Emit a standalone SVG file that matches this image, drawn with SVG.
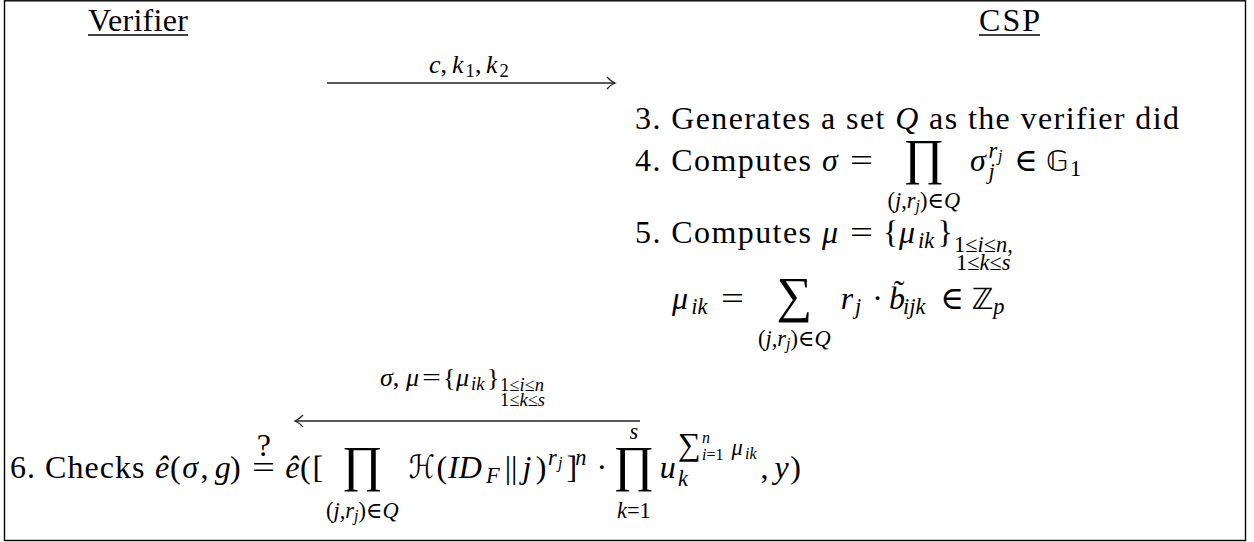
<svg xmlns="http://www.w3.org/2000/svg" width="1254" height="542" viewBox="0 0 1254 542" font-family="'Liberation Serif', Tinos, 'Times New Roman', 'DejaVu Serif', serif">
<style>
.t{font-family:'Liberation Serif',Tinos,'Times New Roman','Noto Serif','DejaVu Serif',serif;font-size:32px;fill:#000}
.i{font-style:italic}
.sc{font-size:22.4px}
.ss{font-size:16px}
.lb{font-size:26px}
.lbs{font-size:18.5px}
.m{text-anchor:middle}
.op{font-size:50px}
.bb{font-family:'DejaVu Sans','DejaVu Serif','Noto Sans',sans-serif;font-size:29px;fill:#000}
.cal{font-family:'DejaVu Serif','DejaVu Sans',serif;font-size:32px;font-style:italic;fill:#000}
.rule{stroke:#000;stroke-width:1.3}
.conn{stroke:#222;stroke-width:1.3;fill:none;marker-end:url(#ah)}
</style>
<defs>
<marker id="ah" markerUnits="userSpaceOnUse" markerWidth="14" markerHeight="14" viewBox="-12 -7 14 14" refX="0" refY="0" orient="auto">
<path d="M-8,-6 Q-4,-1.5 0,0 Q-4,1.5 -8,6" fill="none" stroke="#222" stroke-width="1.3"/>
</marker>
</defs>
<rect x="4.5" y="0.8" width="1241" height="539.7" fill="#fff" stroke="#000" stroke-width="1.4"/>

<g id="verifier">
<text class="t" x="88" y="31" textLength="100" lengthAdjust="spacing">Verifier</text>
<line class="rule" x1="88" y1="35" x2="188" y2="35"/>
</g>
<g id="csp">
<text class="t" x="979" y="31" textLength="61" lengthAdjust="spacing">CSP</text>
<line class="rule" x1="979" y1="35" x2="1040" y2="35"/>
</g>

<g id="connectors">
<line class="conn" x1="327" y1="83" x2="615" y2="83"/>
<line class="conn" x1="640" y1="421" x2="295" y2="421"/>
</g>

<g id="label-challenge">
<text class="t lb i" x="429" y="73">c<tspan font-style="normal">,</tspan></text>
<text class="t lb i" x="452" y="73">k</text>
<text class="t lbs" x="465.5" y="77">1</text>
<text class="t lb" x="475" y="73">,</text>
<text class="t lb i" x="486" y="73">k</text>
<text class="t lbs" x="499.5" y="77">2</text>
</g>

<g id="label-response">
<text class="t lb i" x="380" y="386">σ<tspan font-style="normal">,</tspan></text>
<text class="t lb i" x="406" y="386">μ</text>
<text class="t lb" x="422" y="386" textLength="19" lengthAdjust="spacingAndGlyphs">=</text>
<text class="t lb" x="443" y="386">{</text>
<text class="t lb i" x="456" y="386">μ</text>
<text class="t lbs i" x="471" y="390">ik</text>
<text class="t lb" x="487" y="386">}</text>
<text class="t lbs" x="500" y="391">1≤<tspan class="i">i</tspan>≤<tspan class="i">n</tspan></text>
<text class="t lbs" x="500" y="406">1≤<tspan class="i">k</tspan>≤<tspan class="i">s</tspan></text>
</g>

<g id="step3">
<text class="t" x="635" y="129" textLength="544" lengthAdjust="spacing">3. Generates a set <tspan class="i">Q</tspan> as the verifier did</text>
</g>

<g id="step4">
<text class="t" x="635" y="171" textLength="176" lengthAdjust="spacing">4. Computes</text>
<text class="t i" x="822" y="171">σ</text>
<text class="t" x="850" y="171" textLength="23" lengthAdjust="spacingAndGlyphs">=</text>
<text class="t op m" x="923.8" y="174.4">∏</text>
<text class="t sc m" x="923.8" y="208">(<tspan class="i">j</tspan>,<tspan class="i">r</tspan><tspan class="ss i" dy="3">j</tspan><tspan dy="-3">)∈</tspan><tspan class="i">Q</tspan></text>
<text class="t i" x="970" y="171">σ</text>
<text class="t sc i" x="988.4" y="158">r</text>
<text class="t ss i" x="998" y="161">j</text>
<text class="t sc i" x="988.4" y="179">j</text>
<text class="t m" x="1026.2" y="171">∈</text>
<text class="bb" x="1046" y="171">𝔾</text>
<text class="t sc" x="1070" y="176">1</text>
</g>

<g id="step5">
<text class="t" x="635" y="243" textLength="176" lengthAdjust="spacing">5. Computes</text>
<text class="t i" x="822" y="243">μ</text>
<text class="t" x="850" y="243" textLength="23" lengthAdjust="spacingAndGlyphs">=</text>
<text class="t" x="883" y="243">{</text>
<text class="t i" x="899" y="243">μ</text>
<text class="t sc i" x="918" y="248">ik</text>
<text class="t" x="937.5" y="243">}</text>
<text class="t sc" x="954" y="252">1≤<tspan class="i">i</tspan>≤<tspan class="i">n</tspan>,</text>
<text class="t sc" x="956" y="270">1≤<tspan class="i">k</tspan>≤<tspan class="i">s</tspan></text>
<text class="t i" x="672" y="309">μ</text>
<text class="t sc i" x="691.3" y="314">ik</text>
<text class="t" x="721" y="309" textLength="23" lengthAdjust="spacingAndGlyphs">=</text>
<text class="t op m" x="794.4" y="312.4">∑</text>
<text class="t sc m" x="794.4" y="346">(<tspan class="i">j</tspan>,<tspan class="i">r</tspan><tspan class="ss i" dy="3">j</tspan><tspan dy="-3">)∈</tspan><tspan class="i">Q</tspan></text>
<text class="t i" x="840.7" y="309">r</text>
<text class="t sc i" x="855" y="314">j</text>
<text class="t m" x="877.5" y="309">·</text>
<text class="t i" x="889" y="309">b</text>
<text class="t m" x="899" y="302">˜</text>
<text class="t sc i" x="903" y="314">ijk</text>
<text class="t m" x="952.4" y="309">∈</text>
<text class="bb" x="972" y="309">ℤ</text>
<text class="t sc i" x="993.3" y="314">p</text>
</g>

<g id="step6">
<text class="t" x="10" y="478" textLength="134.4" lengthAdjust="spacing">6. Checks</text>
<text class="t i" x="155" y="478">ê</text>
<text class="t" x="169.9" y="478">(</text>
<text class="t i" x="182.3" y="478">σ</text>
<text class="t" x="200.6" y="478">,</text>
<text class="t i" x="214.8" y="478">g</text>
<text class="t" x="230.1" y="478">)</text>
<text class="t" x="252" y="478" textLength="23" lengthAdjust="spacingAndGlyphs">=</text>
<text class="t m" x="263.8" y="456" font-size="14">?</text>
<text class="t i" x="285.2" y="478">ê</text>
<text class="t" x="300.1" y="478">(</text>
<text class="t" x="312.5" y="478">[</text>
<text class="t op m" x="362.4" y="481.4">∏</text>
<text class="t sc m" x="362.4" y="518">(<tspan class="i">j</tspan>,<tspan class="i">r</tspan><tspan class="ss i" dy="3">j</tspan><tspan dy="-3">)∈</tspan><tspan class="i">Q</tspan></text>
<text class="cal" x="408.7" y="478" textLength="26" lengthAdjust="spacingAndGlyphs">ℋ</text>
<text class="t" x="436.5" y="478">(</text>
<text class="t i" x="448.1" y="478">ID</text>
<text class="t sc i" x="486" y="483">F</text>
<text class="t" x="504.7" y="478">||</text>
<text class="t i" x="522.5" y="478">j</text>
<text class="t" x="535.7" y="478">)</text>
<text class="t sc i" x="548.1" y="465">r</text>
<text class="t ss i" x="558" y="468">j</text>
<text class="t" x="566.4" y="478">]</text>
<text class="t sc i" x="575.3" y="465">n</text>
<text class="t m" x="601.9" y="478">·</text>
<text class="t op m" x="633.9" y="481.4">∏</text>
<text class="t sc i m" x="633.9" y="439">s</text>
<text class="t sc m" x="633.9" y="518"><tspan class="i">k</tspan>=1</text>
<text class="t i" x="659.7" y="478">u</text>
<text class="t sc i" x="678" y="486">k</text>
<text class="t" x="678" y="455" font-size="25">∑</text>
<text class="t ss" x="702" y="460"><tspan class="i">i</tspan>=1</text>
<text class="t ss i" x="702" y="443">n</text>
<text class="t sc i" x="731.4" y="455">μ</text>
<text class="t ss i" x="745" y="459">ik</text>
<text class="t" x="760.4" y="478">,</text>
<text class="t i" x="774.6" y="478">y</text>
<text class="t" x="790.3" y="478">)</text>
</g>
</svg>
